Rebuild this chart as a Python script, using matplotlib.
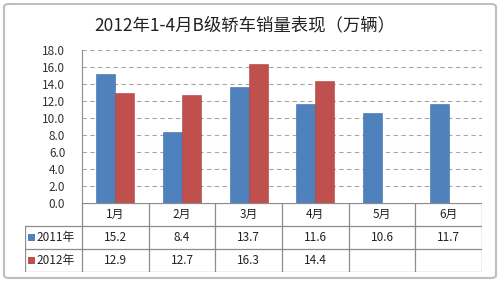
import matplotlib

matplotlib.use("Agg")
import matplotlib.pyplot as plt
from matplotlib.patches import FancyBboxPatch, Rectangle
import numpy as np

plt.rcParams["font.family"] = ["Noto Sans CJK SC", "DejaVu Sans"]

months = ["1月", "2月", "3月", "4月", "5月", "6月"]
series_names = ["2011年", "2012年"]
sales_2011 = [15.2, 8.4, 13.7, 11.6, 10.6, 11.7]
sales_2012 = [12.9, 12.7, 16.3, 14.4, None, None]
yticks = [0, 2, 4, 6, 8, 10, 12, 14, 16, 18]
title = "2012年1-4月B级轿车销量表现（万辆）"

C = {"2011": "#4F81BD", "2012": "#C0504D", "grid": "#A6A6A6", "line": "#8C8C8C"}

W, H = 500, 282
fig = plt.figure(figsize=(W / 100, H / 100), dpi=100)


def px_axes(l, t, r, b):
    return fig.add_axes([l / W, 1 - b / H, (r - l) / W, (b - t) / H])


# outer frame
fig.patches.append(FancyBboxPatch((4 / W, 4 / H), 492 / W, 274 / H,
                                  boxstyle="round,pad=0,rounding_size=0.01",
                                  transform=fig.transFigure, fill=False,
                                  edgecolor="#BFBFBF", lw=1.5))

fig.text(245 / W, 1 - 25 / H, title, ha="center", va="center", fontsize=12.5,
         color="#222222")

# ---- bar chart ----
ax = px_axes(82, 50, 482, 203)
n = len(months)
x = np.arange(n) + 0.5
w = 0.285
ax.bar(x - w / 2, sales_2011, w, color=C["2011"], edgecolor="#3A6AA8", linewidth=0.4, zorder=3)
y12 = [v if v is not None else 0 for v in sales_2012]
mask = [v is not None for v in sales_2012]
ax.bar((x + w / 2)[mask], np.array(y12)[mask], w, color=C["2012"], edgecolor="#A8403D",
       linewidth=0.4, zorder=3)
ax.set_xlim(0, n)
ax.set_ylim(0, 18)
ax.set_yticks(yticks)
ax.set_yticklabels([f"{v:.1f}" for v in yticks], fontsize=8.5, color="#333333")
ax.set_xticks([])
ax.tick_params(axis="y", length=0, pad=12)
ax.grid(axis="y", ls=(0, (4, 3)), color=C["grid"], lw=0.8, zorder=0)
for s in ["top", "right", "bottom"]:
    ax.spines[s].set_visible(False)
ax.spines["left"].set_color(C["line"])
ax.spines["left"].set_linewidth(0.8)

# ---- data table ----
tx = px_axes(25, 203, 482, 272)
left = -57 / ((482 - 82) / n)
tx.set_xlim(left, n)
tx.set_ylim(0, 3)
tx.axis("off")
lc = C["line"]
# horizontal lines
tx.plot([0, n], [3, 3], color=lc, lw=0.9)
for yy in [0, 1, 2]:
    tx.plot([left, n], [yy, yy], color=lc, lw=0.9)
# vertical lines
tx.plot([left, left], [0, 2], color=lc, lw=0.9)
for xx in range(n + 1):
    tx.plot([xx, xx], [0, 3], color=lc, lw=0.9)
for i, m in enumerate(months):
    tx.text(i + 0.5, 2.5, m, ha="center", va="center", fontsize=8.5, color="#222222")
rows = [sales_2011, sales_2012]
for r, (name, vals, col) in enumerate(zip(series_names, rows, [C["2011"], C["2012"]])):
    yc = 1.5 - r
    tx.add_patch(Rectangle((left + 0.04, yc - 0.16), 0.11, 0.32, color=col, lw=0))
    tx.text(left + 0.17, yc, name, ha="left", va="center", fontsize=8.5, color="#222222")
    for i, v in enumerate(vals):
        if v is not None:
            tx.text(i + 0.5, yc, f"{v:.1f}", ha="center", va="center", fontsize=8.5,
                    color="#222222")

fig.savefig("out.png", dpi=100, facecolor="white")
